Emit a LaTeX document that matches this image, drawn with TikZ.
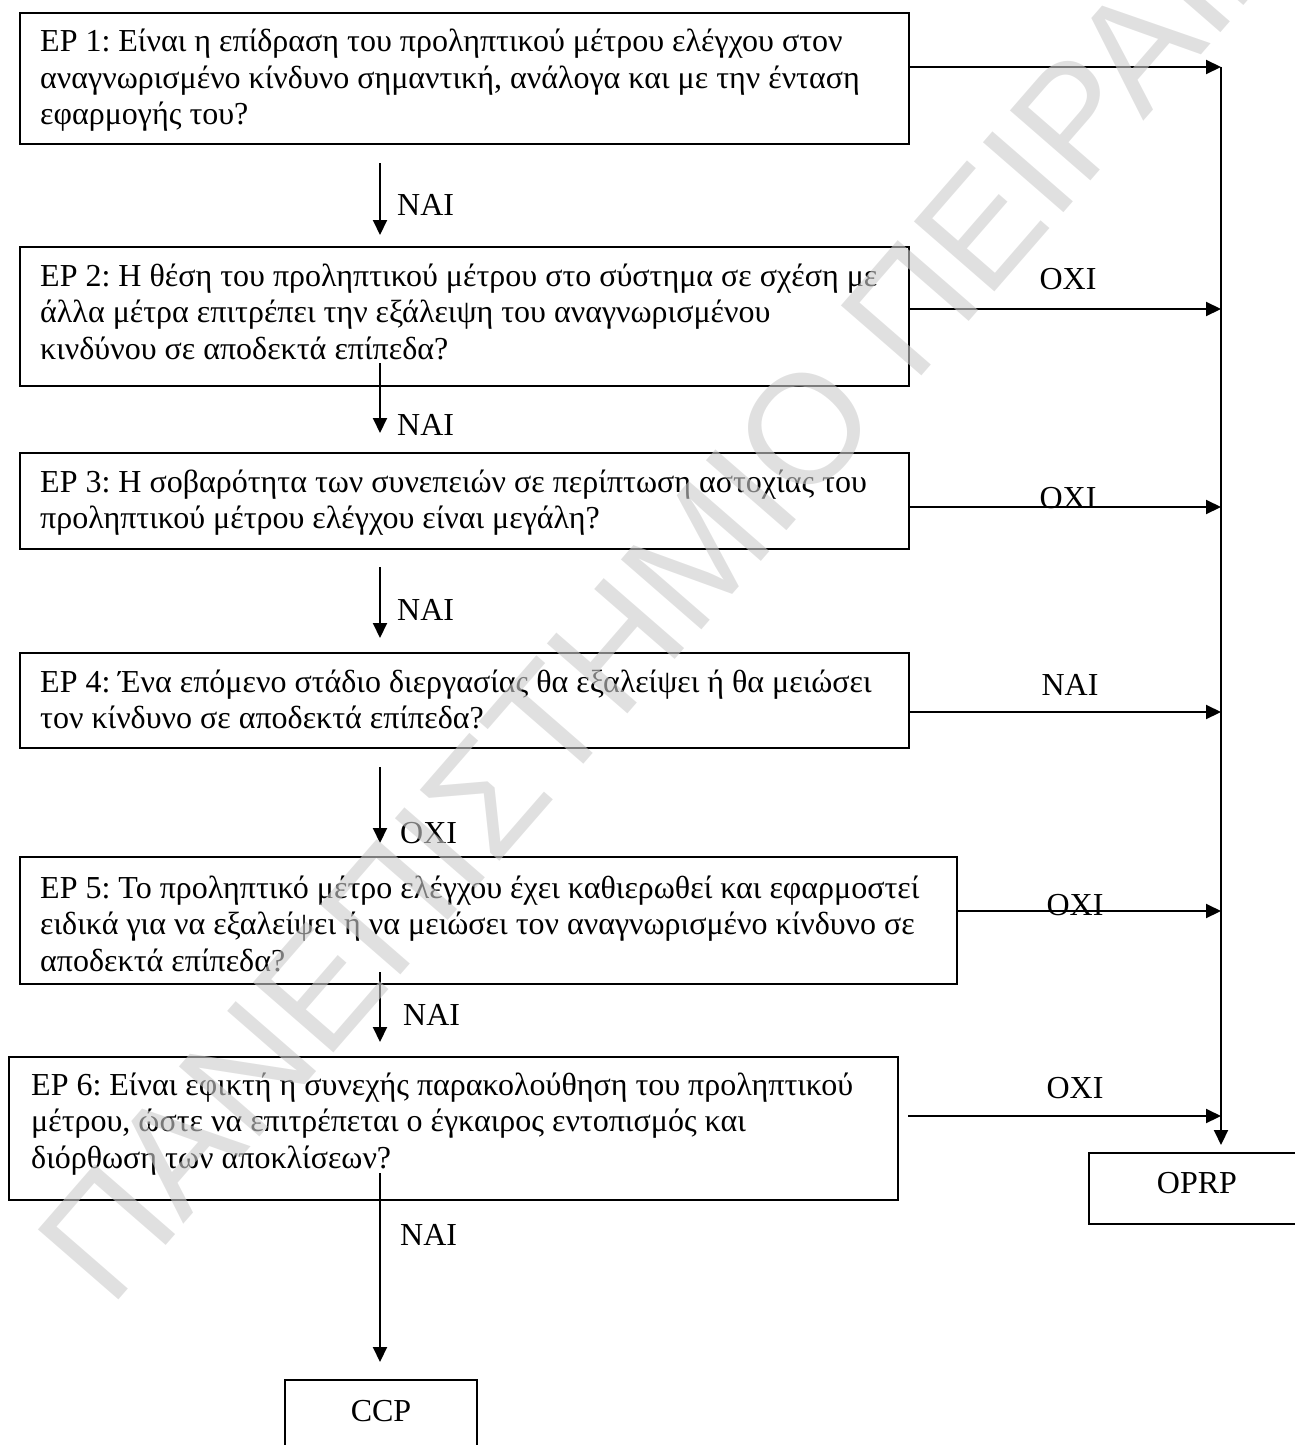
\documentclass[tikz,border=0pt]{standalone}
\usepackage{fontspec}
\setmainfont{Liberation Serif}
\newfontfamily\wmfont{Liberation Sans}
\usetikzlibrary{arrows.meta,calc}
\frenchspacing

% question text, one line per argument line, first baseline at the node anchor
\newcommand{\eptext}[1]{\parbox[t]{1000pt}{#1}}

\begin{document}
\begin{tikzpicture}[x=1pt,y=-1pt,
  box/.style={draw, line width=2pt, inner sep=0pt, outer sep=0pt, anchor=north west},
  endbox/.style={box, font=\fontsize{32}{36}\selectfont, text height=21pt, text depth=11pt},
  txt/.style={inner sep=0pt, anchor=base west, font=\fontsize{32}{36.5}\selectfont},
  lbl/.style={inner sep=0pt, font=\fontsize{32}{36}\selectfont},
  arr/.style={line width=2pt, -{Triangle[length=15pt,width=14pt]}}]
\useasboundingbox (0,0) rectangle (1295,1445);
\clip (0,0) rectangle (1295,1445);

% question boxes
\node[box, minimum width=889pt, minimum height=131pt] (b1) at (20,13) {};
\node[box, minimum width=889pt, minimum height=139pt] (b2) at (20,247) {};
\node[box, minimum width=889pt, minimum height=96pt]  (b3) at (20,453) {};
\node[box, minimum width=889pt, minimum height=95pt]  (b4) at (20,653) {};
\node[box, minimum width=937pt, minimum height=127pt] (b5) at (20,857) {};
\node[box, minimum width=889pt, minimum height=143pt] (b6) at (9,1057) {};

\node[txt] (t1) at ($(b1.north west)+(20,39)$) {\eptext{EP 1: Είναι η επίδραση του προληπτικού μέτρου ελέγχου στον\\
αναγνωρισμένο κίνδυνο σημαντική, ανάλογα και με την ένταση\\
εφαρμογής του?}};
\node[txt] (t2) at ($(b2.north west)+(20,39)$) {\eptext{EP 2: Η θέση του προληπτικού μέτρου στο σύστημα σε σχέση με\\
άλλα μέτρα επιτρέπει την εξάλειψη του αναγνωρισμένου\\
κινδύνου σε αποδεκτά επίπεδα?}};
\node[txt] (t3) at ($(b3.north west)+(20,39)$) {\eptext{EP 3: Η σοβαρότητα των συνεπειών σε περίπτωση αστοχίας του\\
προληπτικού μέτρου ελέγχου είναι μεγάλη?}};
\node[txt] (t4) at ($(b4.north west)+(20,39)$) {\eptext{EP 4: Ένα επόμενο στάδιο διεργασίας θα εξαλείψει ή θα μειώσει\\
τον κίνδυνο σε αποδεκτά επίπεδα?}};
\node[txt] (t5) at ($(b5.north west)+(20,41)$) {\eptext{EP 5: Το προληπτικό μέτρο ελέγχου έχει καθιερωθεί και εφαρμοστεί\\
ειδικά για να εξαλείψει ή να μειώσει τον αναγνωρισμένο κίνδυνο σε\\
αποδεκτά επίπεδα?}};
\node[txt] (t6) at ($(b6.north west)+(22,38)$) {\eptext{EP 6: Είναι εφικτή η συνεχής παρακολούθηση του προληπτικού\\
μέτρου, ώστε να επιτρέπεται ο έγκαιρος εντοπισμός και\\
διόρθωση των αποκλίσεων?}};

% outcome boxes
\node[endbox, minimum width=216pt, minimum height=71pt] (oprp) at (1089,1153) {OPRP};
\node[endbox, minimum width=192pt, minimum height=72pt] (ccp) at (285,1380) {CCP};

% left column of YES/NO arrows
\coordinate (spine) at (380,0);
\draw[arr] ($(b1.south -| spine)+(0,19)$)  -- ($(b2.north -| spine)+(0,-12)$);
\draw[arr] ($(b2.south -| spine)+(0,-23)$) -- ($(b3.north -| spine)+(0,-20)$);
\draw[arr] ($(b3.south -| spine)+(0,18)$)  -- ($(b4.north -| spine)+(0,-15)$);
\draw[arr] ($(b4.south -| spine)+(0,19)$)  -- ($(b5.north -| spine)+(0,-14)$);
\draw[arr] ($(b5.south -| spine)+(0,-12)$) -- ($(b6.north -| spine)+(0,-15)$);
\draw[arr] ($(b6.south -| spine)+(0,-27)$) -- ($(ccp.north -| spine)+(0,-18)$);

\node[lbl, anchor=west] (l12) at (397,205)  {ΝΑΙ};
\node[lbl, anchor=west] (l23) at (397,425)  {ΝΑΙ};
\node[lbl, anchor=west] (l34) at (397,610)  {ΝΑΙ};
\node[lbl, anchor=west] (l45) at (400,833)  {ΟΧΙ};
\node[lbl, anchor=west] (l56) at (403,1015) {ΝΑΙ};
\node[lbl, anchor=west] (l6c) at (400,1235) {ΝΑΙ};

% right-hand branches into the OPRP rail
\coordinate (rail) at (1221,0);
\coordinate (o1) at ($(b1.north east)+(0,54)$);
\coordinate (o2) at ($(b2.north east)+(0,62)$);
\coordinate (o3) at ($(b3.north east)+(0,54)$);
\coordinate (o4) at ($(b4.north east)+(0,59)$);
\coordinate (o5) at ($(b5.north east)+(0,54)$);
\coordinate (o6) at ($(b6.north east)+(10,59)$);
\foreach \o in {o1,o2,o3,o4,o5,o6}
  \draw[arr] (\o) -- (\o -| rail);
\draw[arr] (o1 -| rail) -- ($(oprp.north -| rail)+(0,-8)$);

\node[lbl] (r2) at (1068,279)  {ΟΧΙ};
\node[lbl] (r3) at (1068,498)  {ΟΧΙ};
\node[lbl] (r4) at (1070,685)  {ΝΑΙ};
\node[lbl] (r5) at (1075,905)  {ΟΧΙ};
\node[lbl] (r6) at (1075,1088) {ΟΧΙ};

% watermark laid over the chart
\node[text=black!20, text opacity=0.6, font=\wmfont\fontsize{155}{155}\selectfont,
      rotate=49, inner sep=0pt] (wm) at (704,545) {ΠΑΝΕΠΙΣΤΗΜΙΟ ΠΕΙΡΑΙΩΣ};
\end{tikzpicture}
\end{document}
